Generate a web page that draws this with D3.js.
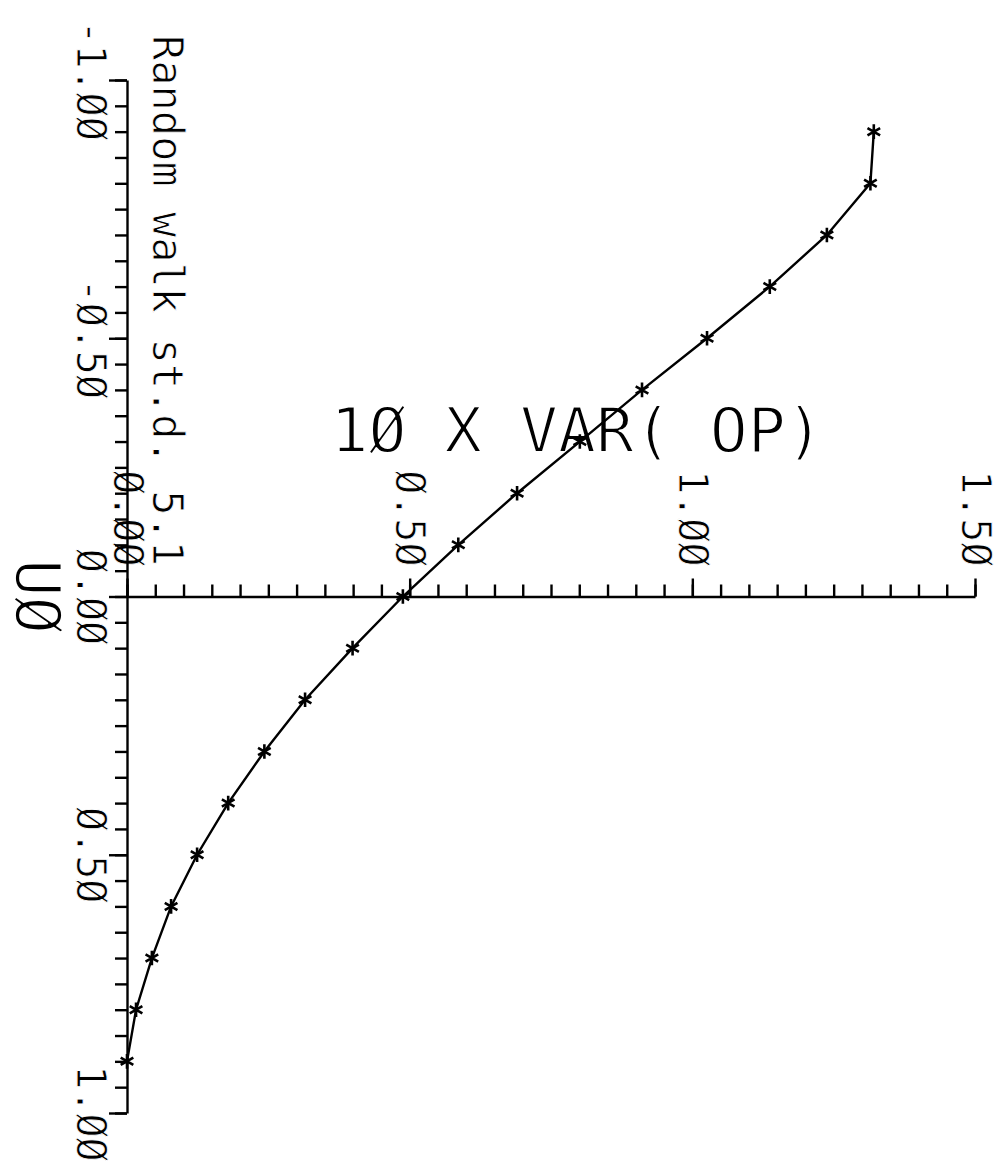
<!DOCTYPE html>
<html>
<head>
<meta charset="utf-8">
<script src="https://cdn.jsdelivr.net/npm/d3@7"></script>
<style>
  body { margin: 0; background: #fff; }
  svg { display: block; }
  text { font-family: "DejaVu Sans Mono", monospace; fill: #000; }
</style>
</head>
<body>
<svg id="chart" width="998" height="1165"></svg>
<script>
// U0 values (vertical axis) and 10 x VAR(OP) (horizontal axis)
var u0 = [-0.9, -0.8, -0.7, -0.6, -0.5, -0.4, -0.3, -0.2, -0.1, 0.0,
          0.1, 0.2, 0.3, 0.4, 0.5, 0.6, 0.7, 0.8, 0.9];
var varOp = [1.321, 1.315, 1.238, 1.137, 1.026, 0.911, 0.801, 0.690, 0.586, 0.488,
             0.399, 0.315, 0.243, 0.179, 0.124, 0.078, 0.044, 0.016, 0.0];

var u0Ticks = [-1, -0.5, 0, 0.5, 1];
var varTicks = [0, 0.5, 1, 1.5];

// plotter font uses a slashed zero
var xTitle = "1Ø X VAR( OP)",
  yTitle = "UØ",
  note = "Random walk st.d. 5.1";

var svg = d3.select("#chart");
svg.append("rect").attr("width", 998).attr("height", 1165).attr("fill", "#fff");

var y = d3.scaleLinear().domain([-1, 1]).range([80, 1113]),
  x = d3.scaleLinear().domain([0, 1.5]).range([127, 975]);

var fmt = function(d) { return d.toFixed(2).replace(/0/g, "Ø"); };

// thin out the glyph strokes a bit (plotter pen look)
function thin(sel, w) {
  sel.attr("stroke", "#fff").attr("stroke-width", w).attr("stroke-linejoin", "round");
}

// minor ticks every 0.05
var u0Minor = d3.range(0, 41).map(function(i) { return -1 + i * 0.05; }),
  varMinor = d3.range(0, 31).map(function(i) { return i * 0.05; });

// ---- titles (drawn first, lines go over them) ----
svg.append("text")
  .attr("x", 577).attr("y", 452)
  .attr("text-anchor", "middle")
  .attr("font-size", 63)
  .call(thin, 1.8)
  .text(xTitle);

svg.append("text")
  .attr("text-anchor", "middle")
  .attr("font-size", 62)
  .attr("transform", "translate(16," + y(0) + ") rotate(90)")
  .call(thin, 1.8)
  .text(yTitle);

svg.append("text")
  .attr("text-anchor", "start")
  .attr("font-size", 42)
  .attr("transform", "translate(153,35) rotate(90)")
  .call(thin, 0.9)
  .text(note);

// ---- U0 axis (vertical) ----
var gy = svg.append("g").attr("transform", "translate(" + x(0) + ",0)");
gy.append("g")
  .call(d3.axisLeft(y).tickValues(u0Ticks).tickSize(18).tickSizeOuter(0).tickFormat(fmt))
  .call(function(g) {
    g.selectAll("text")
      .attr("x", null).attr("dy", null)
      .attr("text-anchor", "middle")
      .attr("font-family", "DejaVu Sans Mono")
      .attr("font-size", 40)
      .attr("transform", "translate(-50,0) rotate(90)")
      .call(thin, 0.9);
  });
gy.append("g")
  .call(d3.axisLeft(y).tickValues(u0Minor).tickSize(12).tickFormat(""))
  .call(function(g) { g.select(".domain").remove(); });

// ---- 10 x VAR(OP) axis (horizontal, through U0 = 0) ----
var gx = svg.append("g").attr("transform", "translate(0," + y(0) + ")");
gx.append("g")
  .call(d3.axisTop(x).tickValues(varTicks).tickSize(18).tickSizeOuter(0).tickFormat(fmt))
  .call(function(g) {
    g.selectAll("text")
      .attr("y", null).attr("dy", null)
      .attr("text-anchor", "end")
      .attr("font-family", "DejaVu Sans Mono")
      .attr("font-size", 40)
      .attr("transform", "translate(-14,-30) rotate(90)")
      .call(thin, 0.9);
  });
gx.append("g")
  .call(d3.axisTop(x).tickValues(varMinor).tickSize(12).tickFormat(""))
  .call(function(g) { g.select(".domain").remove(); });

// redraw axis lines on top of the labels
svg.selectAll(".domain").raise();
svg.selectAll(".tick line, .domain").attr("stroke", "#000").attr("stroke-width", 2.4);
gy.raise();

// ---- curve and markers ----
var pts = u0.map(function(u, i) { return [varOp[i], u]; });

svg.append("path")
  .datum(pts)
  .attr("fill", "none")
  .attr("stroke", "#000")
  .attr("stroke-width", 2.4)
  .attr("d", d3.line()
    .x(function(d) { return x(d[0]); })
    .y(function(d) { return y(d[1]); }));

svg.selectAll(".star")
  .data(pts)
  .enter().append("path")
  .attr("class", "star")
  .attr("transform", function(d) { return "translate(" + x(d[0]) + "," + y(d[1]) + ")"; })
  .attr("d", d3.symbol().type(d3.symbolAsterisk).size(150))
  .attr("fill", "none")
  .attr("stroke", "#000")
  .attr("stroke-width", 2.6);
</script>
</body>
</html>
